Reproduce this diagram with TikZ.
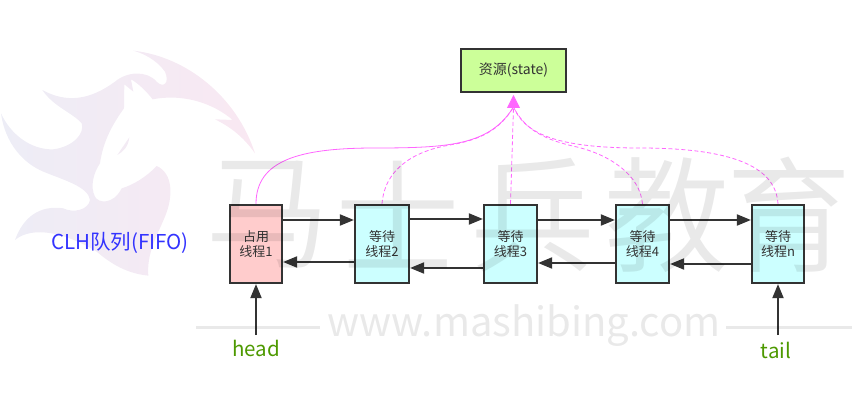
\documentclass[tikz,border=0pt]{standalone}
\usepackage{fontspec}
\setmainfont{Noto Sans CJK SC}
\newfontfamily\thinfont[UprightFont=* DemiLight]{Noto Sans CJK SC}
\usetikzlibrary{arrows.meta}
\definecolor{edgegray}{HTML}{333333}
\definecolor{linkpink}{HTML}{FF66FF}
\definecolor{runred}{HTML}{FFCCCC}
\definecolor{waitcyan}{HTML}{CCFFFF}
\definecolor{stategreen}{HTML}{CCFF99}
\definecolor{tagolive}{HTML}{4D9900}
\definecolor{queueblue}{HTML}{3333FF}
\definecolor{logoleft}{HTML}{EDEDF6}
\definecolor{logoright}{HTML}{F9E8F2}
\tikzset{
  thread/.style={draw=edgegray,line width=2.2pt,minimum width=52pt,minimum height=78pt,
    inner sep=0pt,align=center,font=\fontsize{13}{15}\selectfont,text=edgegray},
  link/.style={draw=edgegray,line width=1.9pt,-{Triangle[length=14pt,width=11pt]}},
  acquire/.style={draw=linkpink,line width=0.8pt},
  waitacquire/.style={acquire,dash pattern=on 4pt off 2.5pt},
  mark text/.style={text opacity=0.085,text=black,inner sep=0pt},
  big mark/.style={mark text,font=\thinfont\fontsize{125}{125}\selectfont},
  tag/.style={font=\fontsize{20.5}{22}\selectfont},
}
\begin{document}
\begin{tikzpicture}[x=1pt,y=-1pt]
\useasboundingbox (0,0) rectangle (852,401);

\begin{scope}[shift={(0,40)},scale=0.3333]
\path[left color=logoleft,right color=logoright,even odd rule]
  (400,32) .. controls (560,50) and (710,170) .. (765,340)
  .. controls (730,290) and (690,260) .. (645,238) -- (698,240)
  .. controls (640,190) and (550,160) .. (458,178)
  .. controls (440,155) and (415,130) .. (393,118) -- (400,155) -- (373,133) -- (372,205)
  .. controls (340,250) and (310,300) .. (300,370)
  .. controls (280,400) and (270,440) .. (285,470)
  .. controls (295,490) and (340,495) .. (365,445)
  .. controls (400,435) and (440,410) .. (470,378)
  .. controls (520,400) and (520,470) .. (495,530)
  .. controls (470,590) and (440,640) .. (445,707)
  .. controls (370,700) and (320,660) .. (290,635)
  .. controls (200,580) and (100,555) .. (45,600)
  .. controls (70,530) and (120,495) .. (190,505)
  .. controls (220,520) and (265,510) .. (270,480)
  .. controls (265,440) and (190,420) .. (130,395)
  .. controls (70,370) and (15,310) .. (3,220)
  .. controls (30,280) and (90,330) .. (160,328)
  .. controls (220,320) and (255,280) .. (245,250)
  .. controls (220,220) and (160,200) .. (127,150)
  .. controls (200,190) and (270,180) .. (345,125)
  .. controls (380,95) and (440,90) .. (470,125)
  .. controls (490,145) and (510,130) .. (495,95)
  .. controls (470,60) and (430,40) .. (400,32) -- cycle
  (352,345) -- (388,292) .. controls (385,320) and (370,335) .. (352,345) -- cycle;
\end{scope}

\node[draw=edgegray,line width=2.2pt,fill=stategreen,minimum width=105pt,minimum height=43pt,inner sep=0pt,
  text=edgegray,font=\fontsize{14}{16}\selectfont] (R) at (513.5,70.5) {资源(state)};

\node[thread,fill=runred] (B1) at (256,244) {占用\\线程1};
\node[thread,fill=waitcyan,minimum width=54pt] (B2) at (382,244) {等待\\线程2};
\node[thread,fill=waitcyan,minimum width=53pt] (B3) at (510.5,244) {等待\\线程3};
\node[thread,fill=waitcyan,minimum width=53pt] (B4) at (642.5,244) {等待\\线程4};
\node[thread,fill=waitcyan] (Bn) at (778,244) {等待\\线程n};

\coordinate (T) at (513.5,95);
\coordinate (TB) at (513.5,107);
\coordinate (H) at (256,335);
\coordinate (E) at (778,335);

\draw[link] ([yshift=24pt]B1.east) -- ([yshift=24pt]B2.west);
\draw[link] ([yshift=25pt]B2.east) -- ([yshift=25pt]B3.west);
\draw[link] ([yshift=24pt]B3.east) -- ([yshift=24pt]B4.west);
\draw[link] ([yshift=24pt]B4.east) -- ([yshift=24pt]Bn.west);
\draw[link] ([yshift=-18pt]B2.west) -- ([yshift=-18pt]B1.east);
\draw[link] ([yshift=-24pt]B3.west) -- ([yshift=-24pt]B2.east);
\draw[link] ([yshift=-19pt]B4.west) -- ([yshift=-19pt]B3.east);
\draw[link] ([yshift=-20pt]Bn.west) -- ([yshift=-20pt]B4.east);
\draw[link] (H) -- (B1.south);
\draw[link] (E) -- (Bn.south);

\draw[acquire] (B1.north) .. controls (256,160) and (300,148) .. (375,148)
  .. controls (450,148) and (490,145) .. (TB);
\draw[waitacquire] (B2.north) .. controls (385,165) and (420,150) .. (450,145)
  .. controls (480,140) and (500,130) .. (TB);
\draw[waitacquire] (B3.north) -- (TB);
\draw[waitacquire] (B4.north) .. controls (640,175) and (610,155) .. (577,147)
  .. controls (545,140) and (525,130) .. (TB);
\draw[waitacquire] (Bn.north) .. controls (776,170) and (740,148) .. (640,148)
  .. controls (560,148) and (525,135) .. (TB);
\draw[acquire,-{Triangle[length=13pt,width=13pt]}] (TB) -- (T);

\node[tag,text=queueblue] (Q) at (120,243) {CLH队列(FIFO)};
\node[tag,text=tagolive] (HL) at (256,348) {head};
\node[tag,text=tagolive] (EL) at (776,350) {tail};

\node[big mark] (M1) at (268,215) {马};
\node[big mark] (M2) at (398,215) {士};
\node[big mark] (M3) at (533,215) {兵};
\node[big mark] (M4) at (667,215) {教};
\node[big mark] (M5) at (789,215) {育};
\node[mark text,font=\fontsize{40}{42}\selectfont] (M6) at (524,326) {www.mashibing.com};
\fill[black,opacity=0.085] (196,325.5) rectangle (320,328.5);
\fill[black,opacity=0.085] (726,325.5) rectangle (852,328.5);
\end{tikzpicture}
\end{document}
